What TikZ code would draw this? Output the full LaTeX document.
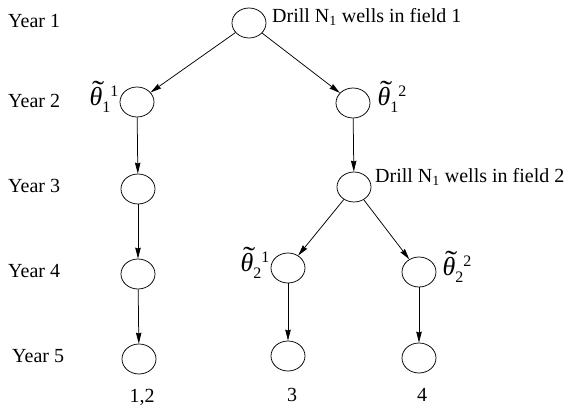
\documentclass[tikz,border=0pt]{standalone}
\usepackage{graphicx}
\usepackage{fontspec}
\setmainfont{Liberation Serif}
\usetikzlibrary{shapes.geometric,arrows.meta}
\tikzset{
  st/.style={draw, ellipse, line width=0.75pt, minimum width=34pt, minimum height=30pt, inner sep=0pt},
  arr/.style={line width=0.75pt, -{Stealth[length=11pt,width=5.5pt,inset=1pt]}},
  yr/.style={anchor=west, inner sep=0pt, font=\fontsize{20}{24}\selectfont},
  txt/.style={inner sep=0pt, font=\fontsize{20}{24}\selectfont},
  thlab/.style={inner sep=0pt, font=\fontsize{26}{28}\selectfont},
}
\newcommand{\thl}[2]{\makebox[0pt][l]{\hspace{2.5pt}\raisebox{5pt}{\scalebox{1.4}[1.1]{\char"02DC}}}{\itshape θ}\raisebox{-7pt}{\fontsize{16}{16}\selectfont #1}\raisebox{9pt}{\fontsize{16}{16}\selectfont #2}}
\begin{document}
\begin{tikzpicture}[x=1pt,y=-1pt]
\useasboundingbox (0,0) rectangle (575,410);
% year labels
\node[yr] (y1) at (8,21) {Year 1};
\node[yr] (y2) at (8,101) {Year 2};
\node[yr] (y3) at (8,186) {Year 3};
\node[yr] (y4) at (8,271) {Year 4};
\node[yr] (y5) at (12,356) {Year 5};
% nodes
\node[st] (r) at (249,23) {};
\node[st] (a2) at (137,102) {};
\node[st] (b2) at (353,103) {};
\node[st] (a3) at (138,189) {};
\node[st] (b3) at (354,187) {};
\node[st] (a4) at (138,274) {};
\node[st] (c4) at (288,268) {};
\node[st] (d4) at (419,272) {};
\node[st] (a5) at (139,359) {};
\node[st] (c5) at (288,356) {};
\node[st] (d5) at (419,358) {};
% texts
\node[txt, anchor=base west] (t1) at (272,22) {Drill N\textsubscript{1} wells in field 1};
\node[txt, anchor=base west] (t2) at (375,182) {Drill N\textsubscript{1} wells in field 2};
\node[thlab, anchor=base east] (th11) at ([xshift=-1pt,yshift=-3pt]a2.west) {\thl{1}{1}};
\node[thlab, anchor=base west] (th12) at ([xshift=7pt,yshift=-2pt]b2.east) {\thl{1}{2}};
\node[thlab, anchor=base east] (th21) at ([xshift=-1pt,yshift=-3pt]c4.west) {\thl{2}{1}};
\node[thlab, anchor=base west] (th22) at ([xshift=6pt,yshift=-3pt]d4.east) {\thl{2}{2}};
\node[txt] (l12) at (142,397) {1,2};
\node[txt] (l3) at (292,395) {3};
\node[txt] (l4) at (422,395) {4};
% edges
\draw[arr] (r) -- (a2);
\draw[arr] (r) -- (b2);
\draw[arr] (a2) -- (a3);
\draw[arr] (a3) -- (a4);
\draw[arr] (a4) -- (a5);
\draw[arr] (b2) -- (b3);
\draw[arr] (b3) -- (c4);
\draw[arr] (b3) -- (d4);
\draw[arr] (c4) -- (c5);
\draw[arr] (d4) -- (d5);
\end{tikzpicture}
\end{document}
